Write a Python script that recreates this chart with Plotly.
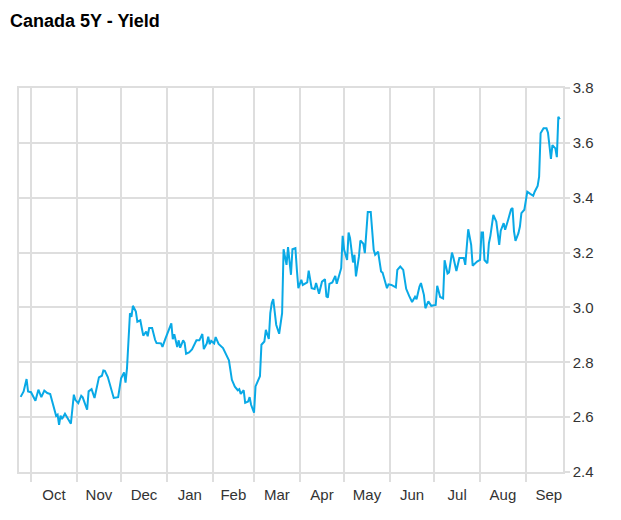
import plotly.graph_objects as go

dates = [
    "2017-09-24", "2017-09-26", "2017-09-28", "2017-09-29", "2017-10-01", "2017-10-04", "2017-10-06", "2017-10-08",
    "2017-10-10", "2017-10-12", "2017-10-14", "2017-10-16", "2017-10-18", "2017-10-19", "2017-10-20", "2017-10-21",
    "2017-10-22", "2017-10-24", "2017-10-26", "2017-10-28", "2017-10-30", "2017-10-31", "2017-11-02", "2017-11-04",
    "2017-11-05", "2017-11-08", "2017-11-09", "2017-11-11", "2017-11-13", "2017-11-16", "2017-11-18", "2017-11-19",
    "2017-11-20", "2017-11-22", "2017-11-26", "2017-11-29", "2017-12-01", "2017-12-03", "2017-12-04", "2017-12-05",
    "2017-12-07", "2017-12-08", "2017-12-09", "2017-12-11", "2017-12-12", "2017-12-14", "2017-12-15", "2017-12-16",
    "2017-12-18", "2017-12-19", "2017-12-20", "2017-12-22", "2017-12-24", "2017-12-25", "2017-12-28", "2017-12-29",
    "2017-12-31", "2018-01-02", "2018-01-04", "2018-01-05", "2018-01-06", "2018-01-08", "2018-01-09", "2018-01-10",
    "2018-01-12", "2018-01-13", "2018-01-14", "2018-01-16", "2018-01-18", "2018-01-21", "2018-01-23", "2018-01-25",
    "2018-01-26", "2018-01-28", "2018-01-29", "2018-01-30", "2018-01-31", "2018-02-02", "2018-02-03", "2018-02-05",
    "2018-02-08", "2018-02-12", "2018-02-14", "2018-02-16", "2018-02-18", "2018-02-19", "2018-02-20", "2018-02-22",
    "2018-02-23", "2018-02-25", "2018-02-26", "2018-02-27", "2018-03-01", "2018-03-02", "2018-03-04", "2018-03-05",
    "2018-03-06", "2018-03-08", "2018-03-09", "2018-03-11", "2018-03-12", "2018-03-13", "2018-03-14", "2018-03-16",
    "2018-03-18", "2018-03-20", "2018-03-21", "2018-03-23", "2018-03-24", "2018-03-26", "2018-03-27", "2018-03-29",
    "2018-03-30", "2018-03-31", "2018-04-02", "2018-04-03", "2018-04-06", "2018-04-07", "2018-04-09", "2018-04-11",
    "2018-04-12", "2018-04-13", "2018-04-14", "2018-04-16", "2018-04-18", "2018-04-19", "2018-04-20", "2018-04-21",
    "2018-04-23", "2018-04-25", "2018-04-26", "2018-04-29", "2018-04-30", "2018-05-01", "2018-05-03", "2018-05-04",
    "2018-05-05", "2018-05-07", "2018-05-08", "2018-05-09", "2018-05-11", "2018-05-12", "2018-05-14", "2018-05-15",
    "2018-05-17", "2018-05-19", "2018-05-21", "2018-05-22", "2018-05-24", "2018-05-26", "2018-05-27", "2018-05-30",
    "2018-05-31", "2018-06-02", "2018-06-05", "2018-06-06", "2018-06-08", "2018-06-10", "2018-06-12", "2018-06-14",
    "2018-06-16", "2018-06-18", "2018-06-19", "2018-06-21", "2018-06-22", "2018-06-24", "2018-06-25", "2018-06-27",
    "2018-06-29", "2018-07-02", "2018-07-03", "2018-07-05", "2018-07-07", "2018-07-08", "2018-07-10", "2018-07-11",
    "2018-07-13", "2018-07-14", "2018-07-16", "2018-07-18", "2018-07-21", "2018-07-22", "2018-07-24", "2018-07-26",
    "2018-07-27", "2018-07-30", "2018-08-01", "2018-08-02", "2018-08-03", "2018-08-04", "2018-08-06", "2018-08-07",
    "2018-08-08", "2018-08-10", "2018-08-12", "2018-08-14", "2018-08-15", "2018-08-17", "2018-08-18", "2018-08-20",
    "2018-08-22", "2018-08-23", "2018-08-24", "2018-08-25", "2018-08-27", "2018-08-28", "2018-08-29", "2018-08-31",
    "2018-09-02", "2018-09-04", "2018-09-06", "2018-09-07", "2018-09-09", "2018-09-10", "2018-09-11", "2018-09-13",
    "2018-09-15", "2018-09-16", "2018-09-18", "2018-09-19", "2018-09-21", "2018-09-22", "2018-09-23", "2018-09-24",
]

yields = [
    2.674, 2.694, 2.739, 2.694, 2.691, 2.660, 2.700, 2.673,
    2.697, 2.688, 2.684, 2.639, 2.605, 2.609, 2.572, 2.605,
    2.593, 2.612, 2.591, 2.576, 2.682, 2.663, 2.651, 2.678,
    2.672, 2.627, 2.694, 2.702, 2.670, 2.745, 2.751, 2.770,
    2.769, 2.746, 2.670, 2.673, 2.742, 2.763, 2.726, 2.779,
    2.979, 2.966, 3.006, 2.985, 2.948, 2.953, 2.925, 2.897,
    2.912, 2.895, 2.925, 2.925, 2.882, 2.870, 2.869, 2.856,
    2.886, 2.912, 2.942, 2.884, 2.902, 2.856, 2.880, 2.853,
    2.880, 2.871, 2.831, 2.836, 2.847, 2.880, 2.880, 2.903,
    2.848, 2.869, 2.893, 2.866, 2.878, 2.869, 2.892, 2.867,
    2.852, 2.807, 2.736, 2.711, 2.698, 2.702, 2.685, 2.698,
    2.652, 2.657, 2.673, 2.645, 2.616, 2.712, 2.740, 2.749,
    2.864, 2.876, 2.918, 2.885, 2.979, 3.016, 3.030, 2.937,
    2.904, 2.979, 3.212, 3.155, 3.220, 3.119, 3.212, 3.216,
    3.137, 3.070, 3.101, 3.082, 3.091, 3.134, 3.070, 3.067,
    3.089, 3.070, 3.050, 3.094, 3.103, 3.040, 3.036, 3.086,
    3.091, 3.115, 3.086, 3.143, 3.261, 3.210, 3.173, 3.273,
    3.252, 3.164, 3.192, 3.113, 3.185, 3.244, 3.232, 3.198,
    3.348, 3.348, 3.210, 3.192, 3.203, 3.131, 3.127, 3.070,
    3.084, 3.082, 3.073, 3.137, 3.149, 3.137, 3.068, 3.042,
    3.020, 3.039, 3.030, 3.076, 3.089, 3.046, 2.997, 3.022,
    3.006, 3.009, 3.079, 3.038, 3.033, 3.172, 3.124, 3.128,
    3.200, 3.181, 3.133, 3.180, 3.180, 3.155, 3.285, 3.228,
    3.152, 3.167, 3.173, 3.273, 3.273, 3.173, 3.161, 3.234,
    3.261, 3.337, 3.313, 3.228, 3.280, 3.307, 3.283, 3.319,
    3.358, 3.362, 3.277, 3.243, 3.271, 3.295, 3.344, 3.356,
    3.422, 3.414, 3.407, 3.422, 3.443, 3.477, 3.635, 3.653,
    3.653, 3.637, 3.542, 3.592, 3.580, 3.548, 3.695, 3.686,
]

x_range = ["2017-09-22 21:00", "2018-09-26 04:00"]
y_range = [2.4, 3.8]
y_ticks = [2.4, 2.6, 2.8, 3.0, 3.2, 3.4, 3.6, 3.8]
title_text = "Canada 5Y - Yield"

GRID = "#dedede"
LINE = "#09a9e6"
FONT = "Liberation Sans, Arial, sans-serif"

# the page body adds an 8px margin, so the figure is 8px smaller on each axis
W, H = 613, 512

fig = go.Figure(go.Scatter(
    x=dates, y=yields, mode="lines",
    line=dict(color=LINE, width=2),
    hoverinfo="x+y",
))

fig.update_layout(
    width=W, height=H,
    margin=dict(l=9, r=58, t=80, b=48),
    paper_bgcolor="white", plot_bgcolor="white",
    showlegend=False,
    font=dict(family=FONT, size=15, color="#333333"),
    title=dict(
        text="<b>" + title_text + "</b>",
        x=2 / W, xref="container", xanchor="left",
        y=1 - 13 / H, yref="container", yanchor="middle",
        font=dict(family=FONT, size=18, color="#000000"),
    ),
)

fig.update_xaxes(
    type="date", range=x_range,
    tick0="2017-10-01", dtick="M1", tickformat="%b",
    ticklabelmode="period",
    showgrid=True, gridcolor=GRID, gridwidth=1.5,
    ticks="outside", ticklen=8, tickcolor=GRID, tickwidth=1.5,
    showline=True, linecolor=GRID, linewidth=1.5, mirror=True,
    zeroline=False,
    tickfont=dict(family=FONT, size=15, color="#333333"),
)

fig.update_yaxes(
    side="right", range=y_range,
    tickmode="array", tickvals=y_ticks, ticktext=[f"{v:.1f}" for v in y_ticks],
    showgrid=True, gridcolor=GRID, gridwidth=1.5,
    ticks="outside", ticklen=5, tickcolor=GRID, tickwidth=1.5,
    showline=True, linecolor=GRID, linewidth=1.5, mirror=True,
    zeroline=False,
    tickfont=dict(family=FONT, size=15, color="#333333"),
)

fig.write_html("out.html")
